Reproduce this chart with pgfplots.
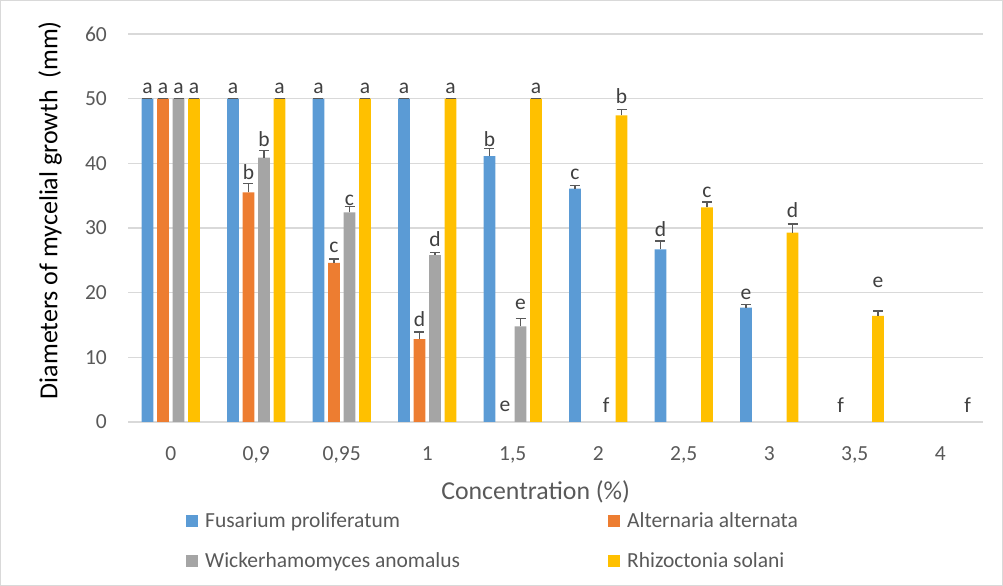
\documentclass[border=0pt]{standalone}
\usepackage{pgfplots}
\pgfplotsset{compat=1.18}
\usepackage{pgfplotstable}
\usepackage{fontspec}
\setmainfont{Carlito}
\definecolor{fblue}{HTML}{5B9BD5}
\definecolor{aorange}{HTML}{ED7D31}
\definecolor{wgray}{HTML}{A5A5A5}
\definecolor{ryellow}{HTML}{FFC000}
\definecolor{gridgray}{HTML}{D9D9D9}
\definecolor{tickgray}{HTML}{595959}
\definecolor{errgray}{HTML}{595959}
\definecolor{lettergray}{HTML}{404040}
\newcommand\tickfont{\fontsize{21.5bp}{26bp}\selectfont}

% x = category index (0..9) plus the bar's offset within its group
\pgfplotstableread{
x y e
-0.272 50 0
0.728 50 0
1.728 50 0
2.728 50 0
3.728 41.1 1.2
4.728 36.1 0.5
5.728 26.7 1.3
6.728 17.7 0.5
}\fusarium
\pgfplotstableread{
x y e
-0.091 50 0
0.909 35.5 1.4
1.909 24.6 0.6
2.909 12.8 1.1
}\alternaria
\pgfplotstableread{
x y e
0.091 50 0
1.091 40.9 1.1
2.091 32.4 0.9
3.091 25.8 0.4
4.091 14.8 1.2
}\wicker
\pgfplotstableread{
x y e
0.272 50 0
1.272 50 0
2.272 50 0
3.272 50 0
4.272 50 0
5.272 47.4 0.9
6.272 33.2 0.8
7.272 29.3 1.3
8.272 16.4 0.8
}\rhizo
\pgfplotstableread{
x y l
-0.272 50.8 a
0.728 50.8 a
1.728 50.8 a
2.728 50.8 a
3.728 42.5 b
4.728 37.4 c
5.728 28.7 d
6.728 18.9 e
7.836 1.5 f
-0.091 50.8 a
0.909 37.4 b
1.909 26.1 c
2.909 14.7 d
3.909 1.5 e
0.091 50.8 a
1.091 42.6 b
2.091 33.4 c
3.091 27.1 d
4.091 17.3 e
5.091 1.5 f
0.272 50.8 a
1.272 50.8 a
2.272 50.8 a
3.272 50.8 a
4.272 50.8 a
5.272 49.2 b
6.272 34.6 c
7.272 31.5 d
8.272 20.7 e
9.319 1.5 f
}\letters

\begin{document}
\begin{tikzpicture}
\path[use as bounding box] (0,0) rectangle (1003bp,586bp);
\draw[gridgray, line width=1bp] (0.5bp,0.5bp) rectangle (1002.5bp,585.5bp);
\begin{axis}[
  at={(128bp,164bp)}, anchor=south west,
  scale only axis, width=855bp, height=388bp,
  xmin=-0.5, xmax=9.5, ymin=0, ymax=60,
  ytick={0,10,...,60},
  yticklabel={\pgfmathprintnumber[assume math mode=true]{\tick}},
  xtick={0,...,9},
  xticklabels={0,{0,9},{0,95},1,{1,5},2,{2,5},3,{3,5},4},
  /pgf/number format/assume math mode=true,
  ymajorgrids,
  grid style={draw=gridgray, line width=1.3bp},
  axis line style={draw=none},
  major tick length=0pt,
  tick style={draw=none},
  yticklabel style={font=\tickfont, text=tickgray, anchor=east, inner sep=0pt, xshift=-21bp},
  xticklabel style={font=\tickfont, text=tickgray, anchor=north, inner sep=0pt, yshift=-24bp},
  xlabel={Concentration (\%)},
  xlabel style={font=\fontsize{25.8bp}{30bp}\selectfont, text=tickgray, at={(axis description cs:0.4768,-0.1804)}, anchor=center},
  ylabel={Diameters of mycelial growth\ \ (mm)},
  ylabel style={font=\fontsize{26bp}{30bp}\selectfont, text=black, at={(axis description cs:-0.0912,0.546)}, anchor=center},
  legend columns=2,
  legend cell align=left,
  legend image code/.code={\fill[#1] (0bp,-6bp) rectangle (12bp,6bp); \path (17bp,0bp);},
  legend style={at={(axis description cs:0.0678,-0.3067)}, anchor=west, draw=none, fill=none, inner sep=0pt, font=\tickfont, text=tickgray, row sep=20bp, column sep=0pt},
  error bars/error bar style={errgray, line width=1.5bp},
  error bars/error mark options={errgray, line width=1.5bp, mark size=5bp, rotate=90},
]
\addplot[ybar, bar width=11.7bp, bar shift=0bp, fill=fblue, draw=none,
  error bars/.cd, y dir=plus, y explicit] table[x=x, y=y, y error=e] {\fusarium};
\addlegendentry{\makebox[401bp][l]{Fusarium proliferatum}}
\addplot[ybar, bar width=11.7bp, bar shift=0bp, fill=aorange, draw=none,
  error bars/.cd, y dir=plus, y explicit] table[x=x, y=y, y error=e] {\alternaria};
\addlegendentry{Alternaria alternata}
\addplot[ybar, bar width=11.7bp, bar shift=0bp, fill=wgray, draw=none,
  error bars/.cd, y dir=plus, y explicit] table[x=x, y=y, y error=e] {\wicker};
\addlegendentry{\makebox[401bp][l]{Wickerhamomyces anomalus}}
\addplot[ybar, bar width=11.7bp, bar shift=0bp, fill=ryellow, draw=none,
  error bars/.cd, y dir=plus, y explicit] table[x=x, y=y, y error=e] {\rhizo};
\addlegendentry{Rhizoctonia solani}
\addplot[forget plot, only marks, mark=none, point meta=explicit symbolic,
  nodes near coords, nodes near coords style={anchor=south, inner sep=0pt, font=\tickfont, text=lettergray}]
  table[x=x, y=y, meta=l] {\letters};
\end{axis}
\end{tikzpicture}
\end{document}
